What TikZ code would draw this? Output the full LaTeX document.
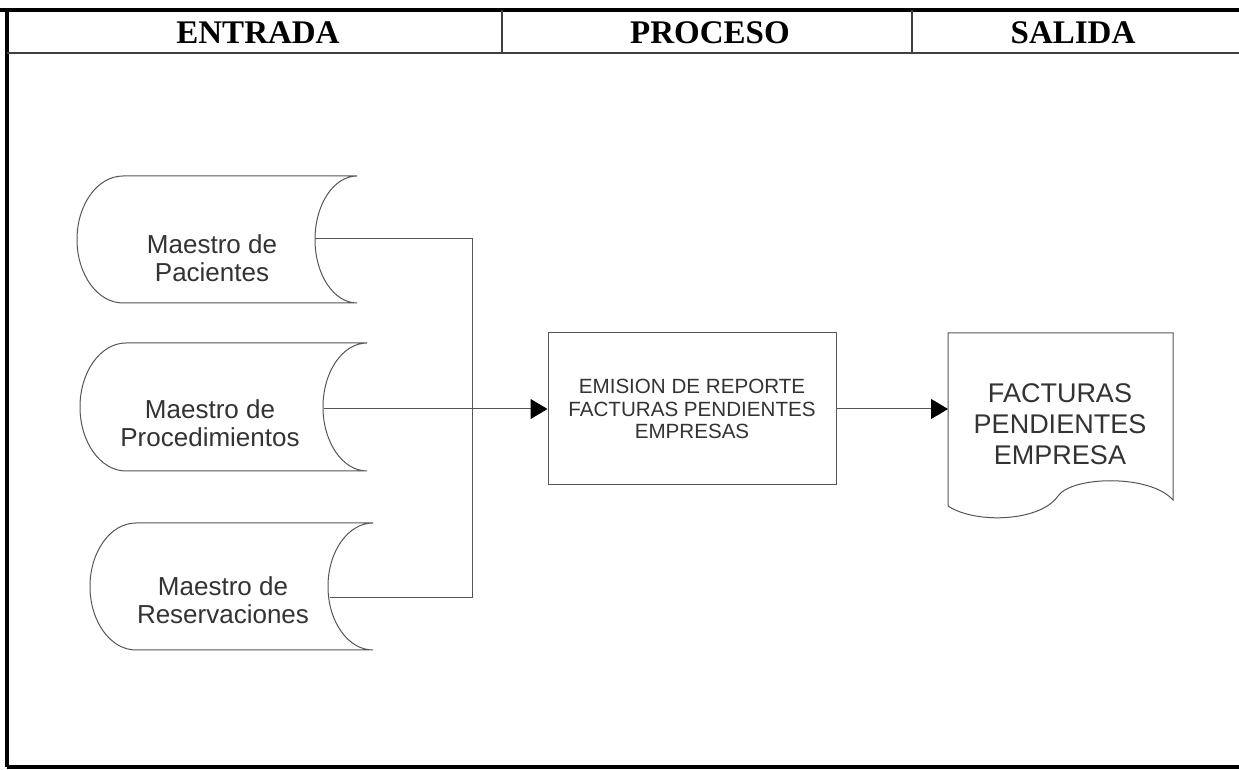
\documentclass[tikz,border=0pt]{standalone}
\usepackage{fontspec}
\setmainfont{Liberation Serif}
\newfontfamily\arialf{Liberation Sans}
\usetikzlibrary{arrows.meta}
\definecolor{ink}{HTML}{333333}
\definecolor{lin}{HTML}{555555}
\begin{document}
\begin{tikzpicture}[x=0.5pt,y=-0.5pt,
  frameline/.style={line width=1.8pt,black},
  headline/.style={line width=1pt,black!75},
  head/.style={font=\fontsize{16.5}{18}\selectfont\bfseries,text=black},
  shapeline/.style={draw=lin,line width=0.5pt},
  stxt/.style={font=\arialf\fontsize{13}{14}\selectfont,text=ink,align=center},
  ptxt/.style={font=\arialf\fontsize{10.3}{11.3}\selectfont,text=ink,align=center},
  dtxt/.style={font=\arialf\fontsize{13.5}{15.5}\selectfont,text=ink,align=center},
  procbox/.style={draw=lin,line width=0.5pt,minimum width=144pt,minimum height=76pt,inner sep=0pt},
  conn/.style={draw=lin,line width=0.5pt},
  arr/.style={conn,-{Triangle[length=8.5pt,width=10pt,fill=black,color=black]}}
]
\useasboundingbox (0,0) rectangle (1239,770);
\fill[white] (0,0) rectangle (1239,770);

% frame
\draw[frameline] (0,10) -- (1239,10);
\draw[frameline] (7,10) -- (7,767);
\draw[frameline] (7,767) -- (1239,767);
\draw[headline] (7,53) -- (1239,53);
\draw[headline] (502,10) -- (502,53);
\draw[headline] (912,10) -- (912,53);

% header texts
\node[head] (hin) at (258,33) {ENTRADA};
\node[head] (hpr) at (710,33) {PROCESO};
\node[head] (hout) at (1073,33) {SALIDA};

% storage shape 1
\draw[shapeline] (123,176) -- (357,176)
  .. controls (333.8,176) and (315,204.4) .. (315,239.5)
  .. controls (315,274.6) and (333.8,303) .. (357,303)
  -- (123,303)
  .. controls (97.6,303) and (77,274.6) .. (77,239.5)
  .. controls (77,204.4) and (97.6,176) .. (123,176) -- cycle;
\node[stxt] (s1) at (212,258) {Maestro de\\Pacientes};

% storage shape 2
\draw[shapeline] (126,343) -- (367,343)
  .. controls (342.7,343) and (323,371.7) .. (323,407)
  .. controls (323,442.3) and (342.7,471) .. (367,471)
  -- (126,471)
  .. controls (100.6,471) and (80,442.3) .. (80,407)
  .. controls (80,371.7) and (100.6,343) .. (126,343) -- cycle;
\node[stxt] (s2) at (210,423) {Maestro de\\Procedimientos};

% storage shape 3
\draw[shapeline] (136,523) -- (373,523)
  .. controls (348.1,523) and (328,551.4) .. (328,586.5)
  .. controls (328,621.6) and (348.1,650) .. (373,650)
  -- (136,650)
  .. controls (110.6,650) and (90,621.6) .. (90,586.5)
  .. controls (90,551.4) and (110.6,523) .. (136,523) -- cycle;
\node[stxt] (s3) at (223,600) {Maestro de\\Reservaciones};

% process box
\node[procbox,ptxt] (proc) at (692,409) {EMISION DE REPORTE\\FACTURAS PENDIENTES\\EMPRESAS};

% document shape
\draw[shapeline] (948,333) -- (1173,333) -- (1173,500)
  .. controls (1150,474) and (1072,476) .. (1058,496)
  .. controls (1040,522) and (975,524) .. (948,506) -- cycle;
\node[dtxt] (doc) at (1060,424) {FACTURAS\\PENDIENTES\\EMPRESA};
\coordinate (docin) at (948,409);

% connectors
\coordinate (c1) at (315,239);
\coordinate (c2) at (324,409);
\coordinate (c3) at (330,598);
\coordinate (j1) at (472,239);
\coordinate (j3) at (472,598);
\draw[conn] (c1) -- (j1) -- (j3) -- (c3);
\draw[arr] (c2) -- (proc.west);
\draw[arr] (proc.east) -- (docin);
\end{tikzpicture}
\end{document}
